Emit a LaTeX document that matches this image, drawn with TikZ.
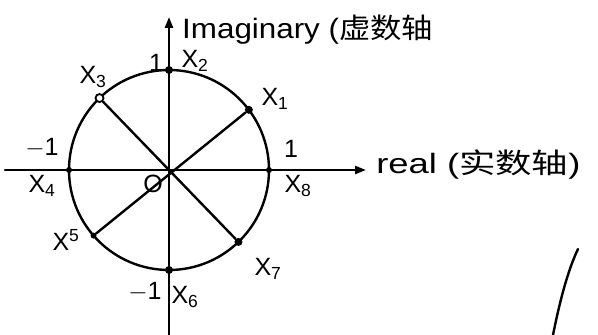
\documentclass[tikz,border=0pt]{standalone}
\usepackage{fontspec}
\setmainfont{Liberation Sans}
\newfontfamily\cjk{Noto Sans CJK SC}
\usetikzlibrary{arrows.meta,calc}
\begin{document}
\begin{tikzpicture}[x=1pt,y=1pt,
  ink/.style={line width=2.4pt,line cap=round},
  axis/.style={ink,-{Triangle[length=11pt,width=8pt]}},
  dot/.style={circle,fill=black,inner sep=0pt,minimum size=8pt},
  odot/.style={circle,draw=black,fill=white,line width=1.8pt,inner sep=0pt,minimum size=8pt},
  lab/.style={font=\fontsize{25}{27}\selectfont,inner sep=1pt},
  big/.style={font=\fontsize{28}{30}\selectfont,inner sep=0pt,anchor=west}]
\useasboundingbox (0,0) rectangle (598,335);
\coordinate (c) at (169,165);
\coordinate (ybot) at (169,0);
\coordinate (ytop) at (169,318);
\coordinate (xleft) at (5,165);
\coordinate (xright) at (366,165);
% circle
\draw[ink] (c) circle[radius=100];
% axes
\draw[axis] (ybot) -- (ytop);
\draw[axis] (xleft) -- (xright);
% points on the circle
\node[dot] (p1) at ($(c)+(37:100)$) {};
\node[dot] (p2) at ($(c)+(90:100)$) {};
\node[odot] (p3) at ($(c)+(134:100)$) {};
\node[dot,minimum size=6pt] (p4) at ($(c)+(180:100)$) {};
\node[dot,minimum size=6pt] (p5) at ($(c)+(221:100)$) {};
\node[dot] (p6) at ($(c)+(270:100)$) {};
\node[dot] (p7) at ($(c)+(314:100)$) {};
\node[dot,minimum size=6pt] (p8) at ($(c)+(0:100)$) {};
% diagonals
\draw[ink] (p3) -- (p7);
\draw[ink] (p1) -- (p5);
% labels
\node[lab] (l1t) at (156,272) {1};
\node[lab] (lx2) at (195,274) {X\textsubscript{2}};
\node[lab] (lx3) at (93,258) {X\textsubscript{3}};
\node[lab] (lx1) at (275,236) {X\textsubscript{1}};
\node[lab] (l1r) at (291,186) {1};
\node[lab] (lx8) at (298,149) {X\textsubscript{8}};
\node[lab] (lm1l) at (42,187) {$-$1};
\node[lab] (lx4) at (42,149) {X\textsubscript{4}};
\node[lab] (lo) at (153,151) {O};
\node[lab] (lx5) at (66,95) {X\textsuperscript{5}};
\node[lab] (lx7) at (268,66) {X\textsubscript{7}};
\node[lab] (lm1b) at (145,43) {$-$1};
\node[lab] (lx6) at (185,38) {X\textsubscript{6}};
\node[big,xscale=1.12] (imag) at (182,305) {Imaginary ({\cjk 虚数轴}};
\node[big,xscale=1.3] (real) at (376,170) {real ({\cjk 实数轴})};
% stray stroke at lower right
\coordinate (s1) at (578,86);
\coordinate (s2) at (553,0);
\draw[ink] (s1) .. controls (568,65) and (560,35) .. (s2);
\end{tikzpicture}
\end{document}
